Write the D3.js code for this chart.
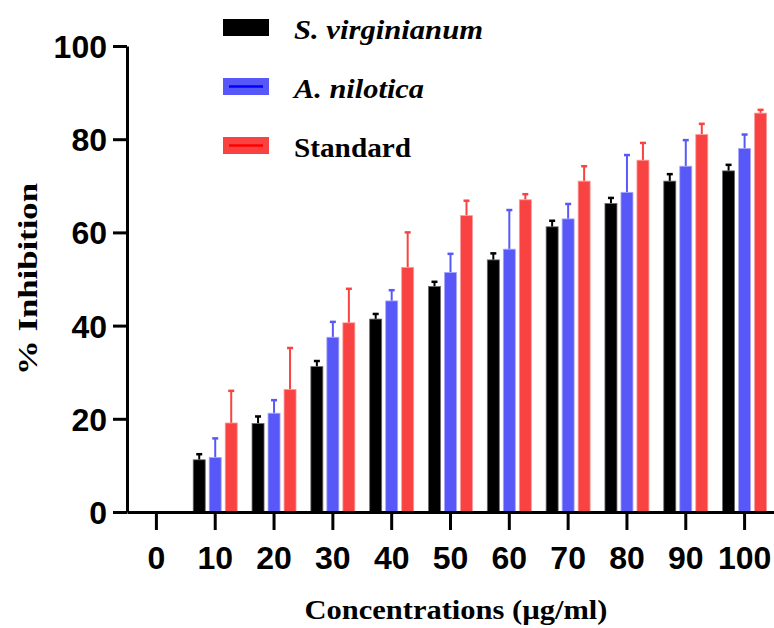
<!DOCTYPE html>
<html>
<head>
<meta charset="utf-8">
<script src="https://cdn.jsdelivr.net/npm/d3@7"></script>
<style>
  body { margin: 0; background: #fff; }
  svg { display: block; }
</style>
</head>
<body>
<svg id="chart"></svg>
<script>
// concentrations (µg/ml)
let concentrations = ["0", "10", "20", "30", "40", "50", "60", "70", "80", "90", "100"];
let series = ["S. virginianum", "A. nilotica", "Standard"];
// % inhibition (0 has no bar)
let virginianum = [null, 11.2, 19.0, 31.2, 41.4, 48.4, 54.1, 61.2, 66.2, 71.0, 73.2];
let virginianumErr = [null, 1.2, 1.5, 1.2, 1.1, 1.0, 1.4, 1.3, 1.2, 1.5, 1.3];
let nilotica = [null, 11.7, 21.2, 37.5, 45.3, 51.4, 56.4, 62.9, 68.6, 74.2, 78.0];
let niloticaErr = [null, 4.1, 2.8, 3.3, 2.3, 4.0, 8.4, 3.2, 8.0, 5.6, 3.0];
let standard = [null, 19.1, 26.3, 40.6, 52.5, 63.6, 67.0, 71.0, 75.5, 81.0, 85.6];
let standardErr = [null, 6.9, 8.9, 7.3, 7.5, 3.2, 1.2, 3.2, 3.7, 2.3, 0.7];
let yTicks = [0, 20, 40, 60, 80, 100];

let colors = ["#000000", "#5858f8", "#f94343"];
let edges = ["#6a6a6a", "#a9a9fb", "#fb9c9c"];
let lineColors = ["#000000", "#0000ff", "#ff0000"];
let legendWidths = [189, 130, 117]; // stretched text in the original

let width = 774,
  height = 628;
let margin = { top: 46, left: 127, bottom: 116, right: 0 };
let serif = "'Liberation Serif', 'Times New Roman', serif";
let sans = "'Liberation Sans', Arial, sans-serif";

let svg = d3.select("#chart").attr("width", width).attr("height", height);

let x = d3
  .scaleBand()
  .domain(concentrations)
  .range([margin.left, width - margin.right]);
let x1 = d3.scaleBand().domain(series).range([-24, 24]).paddingInner(0.25).paddingOuter(0.125);
let y = d3
  .scaleLinear()
  .domain([0, 100])
  .range([height - margin.bottom, margin.top]);

let values = [virginianum, nilotica, standard];
let errors = [virginianumErr, niloticaErr, standardErr];

// error bars first, bars drawn on top
series.forEach(function (s, si) {
  let g = svg.append("g");
  concentrations.forEach(function (c, ci) {
    let v = values[si][ci];
    if (v == null) return;
    let cx = x(c) + x.bandwidth() / 2 + x1(s) + x1.bandwidth() / 2;
    let top = y(v + errors[si][ci]);
    g.append("line")
      .attr("x1", cx).attr("x2", cx)
      .attr("y1", y(v)).attr("y2", top)
      .attr("stroke", colors[si])
      .attr("stroke-width", 2);
    g.append("line")
      .attr("x1", cx - 3).attr("x2", cx + 3)
      .attr("y1", top).attr("y2", top)
      .attr("stroke", colors[si])
      .attr("stroke-width", 2.5);
  });
  concentrations.forEach(function (c, ci) {
    let v = values[si][ci];
    if (v == null) return;
    g.append("rect")
      .attr("x", x(c) + x.bandwidth() / 2 + x1(s))
      .attr("y", y(v))
      .attr("width", x1.bandwidth())
      .attr("height", y(0) - y(v))
      .attr("fill", colors[si])
      .attr("stroke", edges[si])
      .attr("stroke-width", 0.8);
  });
});

// y axis
let yAxis = svg
  .append("g")
  .attr("transform", "translate(" + margin.left + ",0)")
  .call(d3.axisLeft(y).tickValues(yTicks).tickSize(14).tickPadding(6).tickSizeOuter(0));
yAxis.select(".domain").attr("stroke-width", 3);
yAxis.selectAll(".tick line").attr("stroke-width", 3);
yAxis
  .selectAll(".tick text")
  .attr("font-family", sans)
  .attr("font-weight", "bold")
  .attr("font-size", "32px")
  .attr("dy", "0.36em");

// x axis
let xAxis = svg
  .append("g")
  .attr("transform", "translate(0," + y(0) + ")")
  .call(d3.axisBottom(x).tickSize(18).tickPadding(16).tickSizeOuter(0));
xAxis.select(".domain").attr("stroke-width", 3);
xAxis.selectAll(".tick line").attr("stroke-width", 3);
xAxis
  .selectAll(".tick text")
  .attr("font-family", sans)
  .attr("font-weight", "bold")
  .attr("font-size", "32px");

// axis titles
svg
  .append("text")
  .attr("x", 456)
  .attr("y", 619)
  .attr("text-anchor", "middle")
  .attr("font-family", serif)
  .attr("font-weight", "bold")
  .attr("font-size", "28px")
  .attr("textLength", 303)
  .attr("lengthAdjust", "spacingAndGlyphs")
  .text("Concentrations (µg/ml)");

svg
  .append("text")
  .attr("transform", "translate(37,279) rotate(-90)")
  .attr("text-anchor", "middle")
  .attr("font-family", serif)
  .attr("font-weight", "bold")
  .attr("font-size", "28px")
  .attr("textLength", 192)
  .attr("lengthAdjust", "spacingAndGlyphs")
  .text("% Inhibition");

// legend
let legend = svg.append("g").attr("transform", "translate(223,19)");
series.forEach(function (s, i) {
  let row = legend.append("g").attr("transform", "translate(0," + i * 59 + ")");
  row.append("rect")
    .attr("width", 46)
    .attr("height", 17)
    .attr("fill", colors[i]);
  if (i > 0) {
    row.append("line")
      .attr("x1", 6).attr("x2", 40)
      .attr("y1", 8.5).attr("y2", 8.5)
      .attr("stroke", lineColors[i])
      .attr("stroke-width", 2.5);
  }
  row.append("text")
    .attr("x", 71)
    .attr("y", 20)
    .attr("font-family", serif)
    .attr("font-weight", "bold")
    .attr("font-style", i < 2 ? "italic" : "normal")
    .attr("font-size", "28px")
    .attr("textLength", legendWidths[i])
    .attr("lengthAdjust", "spacingAndGlyphs")
    .text(s);
});
</script>
</body>
</html>
